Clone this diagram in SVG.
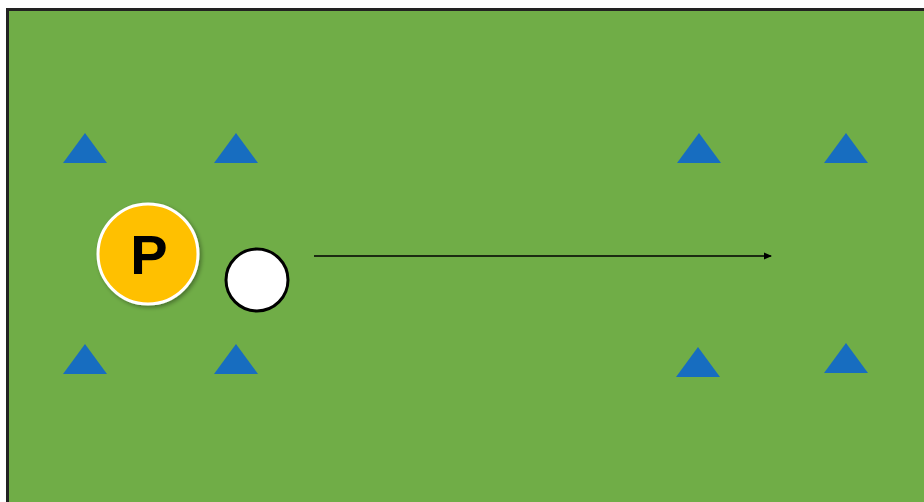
<svg xmlns="http://www.w3.org/2000/svg" width="924" height="502" viewBox="0 0 924 502">
  <defs>
    <marker id="ah" markerWidth="8" markerHeight="8" refX="7" refY="4" orient="auto" markerUnits="userSpaceOnUse">
      <path d="M0,0.5 L8,4 L0,7.5 Z" fill="#000"/>
    </marker>
    <filter id="sh" x="-20%" y="-20%" width="150%" height="150%">
      <feDropShadow dx="2" dy="2" stdDeviation="2" flood-color="#000" flood-opacity="0.35"/>
    </filter>
    <style>
      .cone { fill: #176DC0; }
      .lbl { font-family: "Liberation Sans", Arial, sans-serif; font-weight: bold; font-size: 56px; fill: #000; }
    </style>
  </defs>
  <rect x="0" y="0" width="924" height="502" fill="#fff"/>
  <rect id="field" x="7.5" y="9.5" width="920" height="500" fill="#70AD47" stroke="#222" stroke-width="3"/>
  <g id="cones">
    <polygon id="cone1" class="cone" points="85,133 63,163 107,163"/>
    <polygon id="cone2" class="cone" points="236,133 214,163 258,163"/>
    <polygon id="cone3" class="cone" points="699,133 677,163 721,163"/>
    <polygon id="cone4" class="cone" points="846,133 824,163 868,163"/>
    <polygon id="cone5" class="cone" points="85,344 63,374 107,374"/>
    <polygon id="cone6" class="cone" points="236,344 214,374 258,374"/>
    <polygon id="cone7" class="cone" points="698,347 676,377 720,377"/>
    <polygon id="cone8" class="cone" points="846,343 824,373 868,373"/>
  </g>
  <g id="player">
    <circle cx="148" cy="254" r="50" fill="#FFC000" stroke="#fff" stroke-width="3" filter="url(#sh)"/>
    <text class="lbl" x="149" y="274" text-anchor="middle">P</text>
  </g>
  <g id="ball">
    <circle cx="257" cy="280" r="31" fill="#fff" stroke="#000" stroke-width="3"/>
  </g>
  <g id="connectors">
    <line x1="314" y1="256" x2="771" y2="256" stroke="#000" stroke-width="1.5" marker-end="url(#ah)"/>
  </g>
</svg>
